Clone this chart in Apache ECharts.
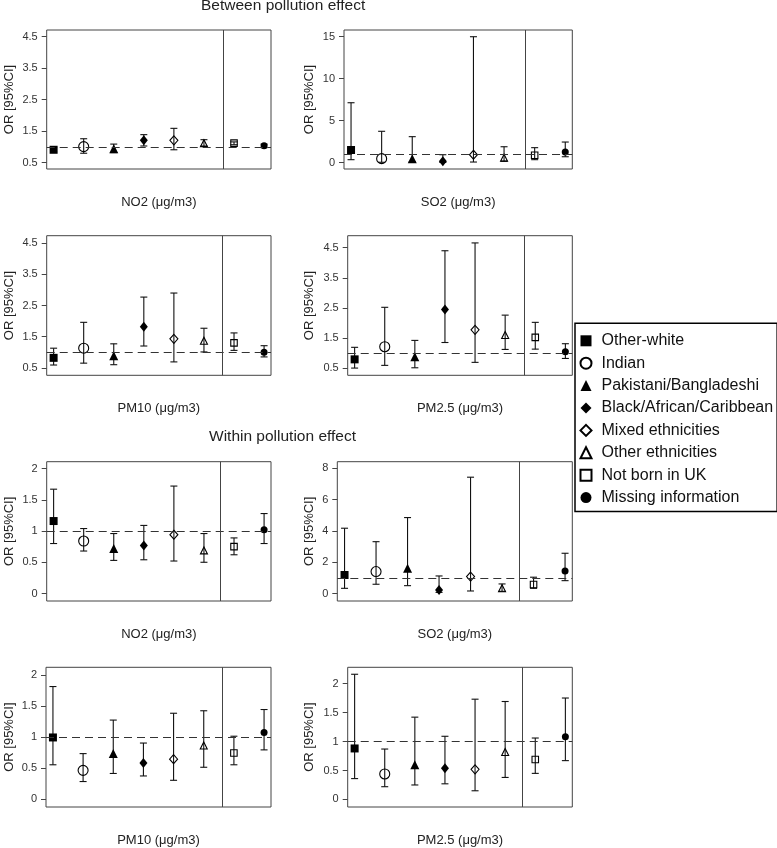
<!DOCTYPE html>
<html>
<head>
<meta charset="utf-8">
<script src="https://cdn.jsdelivr.net/npm/echarts@6/dist/echarts.min.js"></script>
<style>
html,body{margin:0;padding:0;background:#fff;}
#chart{width:777px;height:848px;}
</style>
</head>
<body>
<div id="chart"></div>
<script>
// ---------- data ----------
const groups = ['Other-white','Indian','Pakistani/Bangladeshi','Black/African/Caribbean','Mixed ethnicities','Other ethnicities','Not born in UK','Missing information'];
const positions = [1,2,3,4,5,6,7,8];

// Between pollution effect
const betweenNO2_or = [0.91, 1.01, 0.94, 1.21, 1.21, 1.12, 1.12, 1.04];
const betweenNO2_lo = [0.84, 0.80, 0.82, 1.03, 0.91, 1.03, 1.07, 0.98];
const betweenNO2_hi = [0.98, 1.26, 1.09, 1.39, 1.59, 1.23, 1.16, 1.09];

const betweenSO2_or = [1.51, 0.48, 0.48, 0.17, 0.95, 0.60, 0.88, 1.27];
const betweenSO2_lo = [0.36, 0.05, 0.12, 0.03, 0.08, 0.17, 0.36, 0.71];
const betweenSO2_hi = [7.14, 3.74, 3.10, 0.95, 15.0, 1.90, 1.79, 2.46];

const betweenPM10_or = [0.82, 1.13, 0.89, 1.82, 1.43, 1.37, 1.30, 1.00];
const betweenPM10_lo = [0.59, 0.65, 0.60, 1.20, 0.69, 1.01, 1.06, 0.85];
const betweenPM10_hi = [1.13, 1.96, 1.27, 2.77, 2.90, 1.77, 1.62, 1.21];

const betweenPM25_or = [0.79, 1.21, 0.88, 2.45, 1.77, 1.60, 1.52, 1.04];
const betweenPM25_lo = [0.50, 0.59, 0.51, 1.35, 0.69, 1.12, 1.13, 0.82];
const betweenPM25_hi = [1.19, 2.52, 1.42, 4.40, 4.66, 2.26, 2.02, 1.31];

// Within pollution effect
const withinNO2_or = [1.16, 0.84, 0.72, 0.77, 0.94, 0.69, 0.75, 1.02];
const withinNO2_lo = [0.80, 0.68, 0.53, 0.54, 0.52, 0.50, 0.62, 0.80];
const withinNO2_hi = [1.67, 1.04, 0.96, 1.09, 1.72, 0.96, 0.89, 1.28];

const withinSO2_or = [1.19, 1.41, 1.62, 0.24, 1.09, 0.34, 0.58, 1.45];
const withinSO2_lo = [0.34, 0.60, 0.51, 0.08, 0.17, 0.15, 0.34, 0.83];
const withinSO2_hi = [4.18, 3.32, 4.86, 1.13, 7.44, 0.62, 1.05, 2.58];

const withinPM10_or = [0.99, 0.46, 0.73, 0.58, 0.64, 0.86, 0.74, 1.07];
const withinPM10_lo = [0.55, 0.28, 0.41, 0.37, 0.30, 0.51, 0.55, 0.79];
const withinPM10_hi = [1.81, 0.73, 1.27, 0.90, 1.38, 1.42, 1.01, 1.44];

const withinPM25_or = [0.88, 0.44, 0.60, 0.54, 0.52, 0.82, 0.69, 1.08];
const withinPM25_lo = [0.36, 0.22, 0.25, 0.27, 0.15, 0.38, 0.45, 0.67];
const withinPM25_hi = [2.16, 0.87, 1.42, 1.09, 1.73, 1.69, 1.06, 1.75];

// tick labels
const ticksBetweenNO2 = [0.5, 1.5, 2.5, 3.5, 4.5];
const ticksBetweenSO2 = [0, 5, 10, 15];
const ticksBetweenPM10 = [0.5, 1.5, 2.5, 3.5, 4.5];
const ticksBetweenPM25 = [0.5, 1.5, 2.5, 3.5, 4.5];
const ticksWithinNO2 = [0, 0.5, 1, 1.5, 2];
const ticksWithinSO2 = [0, 2, 4, 6, 8];
const ticksWithinPM10 = [0, 0.5, 1, 1.5, 2];
const ticksWithinPM25 = [0, 0.5, 1, 1.5, 2];

const pollutantLabels = ['NO2 (μg/m3)', 'SO2 (μg/m3)', 'PM10 (μg/m3)', 'PM2.5 (μg/m3)'];
const sectionTitles = ['Between pollution effect', 'Within pollution effect'];
const yAxisTitle = 'OR [95%CI]';
const referenceOR = 1;

// ---------- layout / style ----------
const FONT = '"Liberation Sans", Arial, sans-serif';
const panels = [
  {or: betweenNO2_or, lo: betweenNO2_lo, hi: betweenNO2_hi, ticks: ticksBetweenNO2, label: pollutantLabels[0],
   box: [46.7, 30, 224.3, 139], y: [0.30, 4.71], sep: 6.64, nameX: 8},
  {or: betweenSO2_or, lo: betweenSO2_lo, hi: betweenSO2_hi, ticks: ticksBetweenSO2, label: pollutantLabels[1],
   box: [344, 30, 228.3, 139], y: [-0.75, 15.8], sep: 6.69, nameX: 308},
  {or: betweenPM10_or, lo: betweenPM10_lo, hi: betweenPM10_hi, ticks: ticksBetweenPM10, label: pollutantLabels[2],
   box: [46.7, 235.7, 224.3, 139.6], y: [0.26, 4.74], sep: 6.61, nameX: 8},
  {or: betweenPM25_or, lo: betweenPM25_lo, hi: betweenPM25_hi, ticks: ticksBetweenPM25, label: pollutantLabels[3],
   box: [347.7, 235.7, 224.6, 139.6], y: [0.26, 4.90], sep: 6.62, nameX: 308},
  {or: withinNO2_or, lo: withinNO2_lo, hi: withinNO2_hi, ticks: ticksWithinNO2, label: pollutantLabels[0],
   box: [46.7, 461.7, 224.3, 139.3], y: [-0.12, 2.11], sep: 6.53, nameX: 8},
  {or: withinSO2_or, lo: withinSO2_lo, hi: withinSO2_hi, ticks: ticksWithinSO2, label: pollutantLabels[1],
   box: [337.3, 461.7, 235, 139.3], y: [-0.47, 8.43], sep: 6.54, nameX: 308},
  {or: withinPM10_or, lo: withinPM10_lo, hi: withinPM10_hi, ticks: ticksWithinPM10, label: pollutantLabels[2],
   box: [46, 667.3, 225, 140], y: [-0.13, 2.12], sep: 6.61, nameX: 8},
  {or: withinPM25_or, lo: withinPM25_lo, hi: withinPM25_hi, ticks: ticksWithinPM25, label: pollutantLabels[3],
   box: [347.7, 667.3, 224.6, 140], y: [-0.13, 2.28], sep: 6.56, nameX: 308}
];

const markerStyles = [
  {symbol: 'rect', size: 8, fill: '#000'},
  {symbol: 'circle', size: 10, fill: 'transparent'},
  {symbol: 'triangle', size: 9, fill: '#000'},
  {symbol: 'diamond', size: [8, 10], fill: '#000'},
  {symbol: 'diamond', size: [8, 9], fill: 'transparent'},
  {symbol: 'triangle', size: 7, fill: 'transparent'},
  {symbol: 'rect', size: 6.5, fill: 'transparent'},
  {symbol: 'circle', size: 7, fill: '#000'}
];

const grid = [], xAxis = [], yAxis = [], series = [];

panels.forEach((p, i) => {
  grid.push({
    left: p.box[0], top: p.box[1], width: p.box[2], height: p.box[3],
    show: true, borderColor: '#444', borderWidth: 1, backgroundColor: 'transparent'
  });
  xAxis.push({
    type: 'value', gridIndex: i, min: 0.77, max: 8.23,
    axisLine: {show: false}, axisTick: {show: false}, axisLabel: {show: false}, splitLine: {show: false},
    name: p.label, nameLocation: 'middle', nameGap: 27,
    nameTextStyle: {fontFamily: FONT, fontSize: 13, color: '#222'}
  });
  yAxis.push({
    type: 'value', gridIndex: i, min: p.y[0], max: p.y[1],
    axisLine: {show: false},
    splitLine: {show: false},
    axisTick: {show: true, length: 5, inside: false, customValues: p.ticks, lineStyle: {color: '#444'}},
    axisLabel: {show: true, margin: 9, customValues: p.ticks, fontFamily: FONT, fontSize: 11, color: '#333',
      formatter: v => String(v)},
    name: yAxisTitle, nameLocation: 'middle', nameGap: p.box[0] - p.nameX - 7.5,
    nameTextStyle: {fontFamily: FONT, fontSize: 13, color: '#222'}
  });
  // error bars
  series.push({
    type: 'custom', name: 'ci' + i, xAxisIndex: i, yAxisIndex: i, silent: true, z: 2,
    data: positions.map((x, k) => [x, p.lo[k], p.hi[k]]),
    encode: {x: 0, y: [1, 2]},
    renderItem: function (params, api) {
      const x = api.value(0), lo = api.value(1), hi = api.value(2);
      const a = api.coord([x, lo]), b = api.coord([x, hi]);
      const w = 3.5;
      const st = {stroke: '#111', lineWidth: 1.1};
      return {type: 'group', children: [
        {type: 'line', shape: {x1: a[0], y1: a[1], x2: b[0], y2: b[1]}, style: st},
        {type: 'line', shape: {x1: a[0] - w, y1: a[1], x2: a[0] + w, y2: a[1]}, style: st},
        {type: 'line', shape: {x1: b[0] - w, y1: b[1], x2: b[0] + w, y2: b[1]}, style: st}
      ]};
    },
    markLine: {
      silent: true, symbol: 'none', animation: false, label: {show: false},
      data: [
        {yAxis: referenceOR, lineStyle: {type: [8, 5], color: '#333', width: 1.2}},
        {xAxis: p.sep, lineStyle: {type: 'solid', color: '#444', width: 1}}
      ]
    }
  });
  // point estimates
  groups.forEach((g, k) => {
    const m = markerStyles[k];
    series.push({
      type: 'scatter', name: g, xAxisIndex: i, yAxisIndex: i, z: 3,
      symbol: m.symbol, symbolSize: m.size,
      itemStyle: {color: m.fill, borderColor: '#000', borderWidth: m.fill === '#000' ? 0 : 1.1, opacity: 1},
      emphasis: {disabled: true},
      data: [[positions[k], p.or[k]]]
    });
  });
});

const chart = echarts.init(document.getElementById('chart'), null, {renderer: 'canvas'});
chart.setOption({
  animation: false,
  backgroundColor: '#fff',
  textStyle: {fontFamily: FONT},
  title: [
    {text: sectionTitles[0], left: 201, top: -2, padding: 0,
     textStyle: {fontFamily: FONT, fontSize: 15.5, fontWeight: 'normal', color: '#222'}},
    {text: sectionTitles[1], left: 209, top: 429, padding: 0,
     textStyle: {fontFamily: FONT, fontSize: 15.5, fontWeight: 'normal', color: '#222'}}
  ],
  legend: {
    orient: 'vertical', left: 575, top: 323.3,
    data: groups,
    itemWidth: 11, itemHeight: 11, itemGap: 6.4,
    padding: [9.5, 4, 6, 4.5],
    borderColor: '#000', borderWidth: 1.5, backgroundColor: '#fff',
    selectedMode: false,
    textStyle: {fontFamily: FONT, fontSize: 16, color: '#111', padding: [0, 0, 0, 5]}
  },
  grid: grid,
  xAxis: xAxis,
  yAxis: yAxis,
  series: series
});
</script>
</body>
</html>
